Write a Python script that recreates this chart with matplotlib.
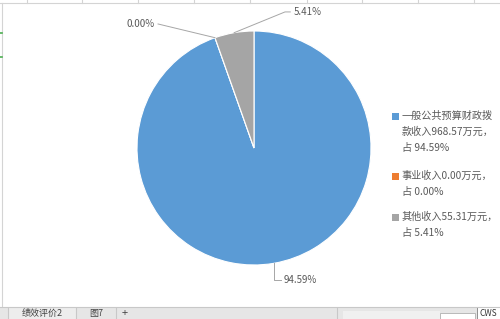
import matplotlib
matplotlib.use("Agg")
import matplotlib.pyplot as plt
from matplotlib.patches import Rectangle
from matplotlib.lines import Line2D
import numpy as np

plt.rcParams['font.family'] = ['Noto Sans CJK SC', 'DejaVu Sans']

# data
names = ["一般公共预算财政拨款", "事业", "其他"]
amounts = [968.57, 0.00, 55.31]      # 万元
percents = [94.59, 0.00, 5.41]
colors = ["#5B9BD5", "#ED7D31", "#A5A5A5"]
sheet_tabs = ["绩效评价2", "图7"]

W, H = 500, 319
fig = plt.figure(figsize=(W / 100, H / 100), dpi=100)
fig.patch.set_facecolor("white")


def fx(px):
    return px / W


def fy(py):
    return 1 - py / H


# spreadsheet frame bits
fig.add_artist(Line2D([0, 1], [fy(3), fy(3)], color="#D4D4D4", lw=0.8))
for x in [27, 82, 138, 194, 250, 307, 362, 418, 474]:
    fig.add_artist(Line2D([fx(x), fx(x)], [fy(0), fy(3)], color="#D4D4D4", lw=0.8))
fig.add_artist(Line2D([fx(2), fx(2)], [fy(3), fy(306)], color="#D4D4D4", lw=0.8))
fig.add_artist(Line2D([0, fx(2)], [fy(33), fy(33)], color="#4CAF50", lw=1.2))
fig.add_artist(Line2D([0, fx(2)], [fy(57), fy(57)], color="#4CAF50", lw=1.2))

# pie
cx, cy, r = 254, 148, 117
ax = fig.add_axes([fx(cx - r), fy(cy + r), 2 * r / W, 2 * r / H])
wedges, _ = ax.pie(percents, colors=colors, startangle=90, counterclock=False,
                   wedgeprops=dict(edgecolor="white", linewidth=0.8))
ax.set_xlim(-1, 1)
ax.set_ylim(-1, 1)
ax.axis("off")

# data labels with leader lines
label_col = "#595959"
lead_col = "#A6A6A6"
mids = []
acc = 0
for p in percents:
    mid = 90 - (acc + p / 2) / 100 * 360
    mids.append(np.deg2rad(mid))
    acc += p

# 94.59% (bottom)
a = mids[0]
x0, y0 = np.cos(a), np.sin(a)
ax.plot([x0, x0, x0 + 0.06], [y0, -1.125, -1.125], color=lead_col, lw=0.7, clip_on=False)
ax.text(x0 + 0.08, -1.125, f"{percents[0]:.2f}%", fontsize=7, color=label_col,
        va="center", ha="left")

# 0.00% (upper left)
a = mids[1]
x0, y0 = np.cos(a), np.sin(a)
ax.plot([x0, -0.82], [y0, 1.06], color=lead_col, lw=0.7, clip_on=False)
ax.text(-0.85, 1.06, f"{percents[1]:.2f}%", fontsize=7, color=label_col,
        va="center", ha="right")

# 5.41% (top)
a = mids[2]
x0, y0 = np.cos(a), np.sin(a)
ax.plot([x0, 0.265, 0.31], [y0, 1.163, 1.163], color=lead_col, lw=0.7, clip_on=False)
ax.text(0.335, 1.163, f"{percents[2]:.2f}%", fontsize=7, color=label_col,
        va="center", ha="left")


# legend
def wrap(s, limit=9.5):
    lines, cur, w = [], "", 0
    for ch in s:
        cw = 0.5 if ord(ch) < 128 else 1
        if w + cw > limit:
            lines.append(cur)
            cur, w = "", 0
        cur += ch
        w += cw
    lines.append(cur)
    return lines


leg_tops = [116, 176, 217]
line_h = 16
for name, amt, pct, col, top in zip(names, amounts, percents, colors, leg_tops):
    fig.add_artist(Rectangle((fx(392), fy(top + 3.5)), 7 / W, 7 / H,
                             facecolor=col, edgecolor="none"))
    lines = wrap(f"{name}收入{amt:.2f}万元，") + [f"占 {pct:.2f}%"]
    for i, ln in enumerate(lines):
        fig.text(fx(402), fy(top + i * line_h), ln, fontsize=7.3, color=label_col,
                 va="center", ha="left")

# sheet tab strip at the bottom
fig.add_artist(Rectangle((0, 0), 1, fy(307), facecolor="#E6E6E6", edgecolor="none"))
fig.add_artist(Line2D([0, 1], [fy(307), fy(307)], color="#C8C8C8", lw=0.8))
fig.add_artist(Rectangle((fx(8), 0), 68 / W, fy(307), facecolor="#EDEDED", edgecolor="none"))
for x in [8, 76, 116, 337]:
    fig.add_artist(Line2D([fx(x), fx(x)], [0, fy(308)], color="#C8C8C8", lw=0.8))
fig.text(fx(42), fy(318), sheet_tabs[0], fontsize=6.5, color="#444444", ha="center", va="bottom")
fig.text(fx(96), fy(318), sheet_tabs[1], fontsize=6.5, color="#444444", ha="center", va="bottom")
fig.text(fx(125), fy(318), "+", fontsize=8, color="#444444", ha="center", va="bottom")
fig.add_artist(Rectangle((fx(343), 0), 97 / W, fy(311), facecolor="#F0F0F0", edgecolor="none"))
fig.add_artist(Rectangle((fx(440), -0.02), 35 / W, fy(313) + 0.02, facecolor="white",
                         edgecolor="#B0B0B0", lw=0.6))
fig.add_artist(Rectangle((fx(477), -0.02), 25 / W, fy(307) + 0.02, facecolor="white",
                         edgecolor="#808080", lw=0.6))
fig.text(fx(479), fy(318), "CWS", fontsize=6, color="#333333", ha="left", va="bottom")

fig.savefig("out.png", dpi=100)
